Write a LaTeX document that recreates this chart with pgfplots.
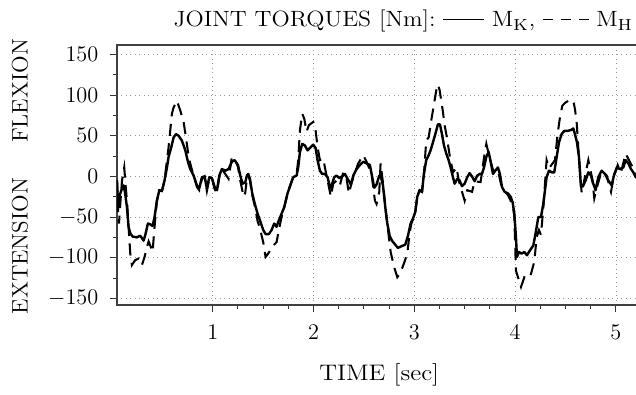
\documentclass[border=0pt]{standalone}
\usepackage{pgfplots}
\usepackage{graphicx}
\pgfplotsset{compat=1.18}
\pgfplotstableread{
t v
0.050 -5
0.056 -28
0.066 -34
0.080 -22
0.100 -15
0.116 -11
0.130 -20
0.149 -38
0.165 -62
0.182 -70
0.205 -74
0.248 -75
0.281 -73
0.314 -79
0.331 -72
0.357 -58
0.380 -59
0.403 -61
0.423 -50
0.446 -30
0.470 -17
0.496 -18
0.522 -5
0.546 11
0.562 24
0.589 36
0.612 48
0.635 52
0.661 50
0.694 44
0.728 32
0.754 18
0.777 9
0.810 1
0.843 -11
0.866 -15
0.893 -1
0.919 0
0.942 -15
0.966 -1
0.992 -2
1.019 -13
1.042 -17
1.065 1
1.091 9
1.124 7
1.157 9
1.190 18
1.217 20
1.250 14
1.273 1
1.296 -9
1.323 -7
1.339 1
1.352 3
1.369 -3
1.392 -21
1.418 -34
1.445 -46
1.468 -54
1.501 -66
1.524 -71
1.557 -71
1.584 -66
1.610 -58
1.633 -62
1.650 -56
1.676 -48
1.709 -38
1.742 -21
1.775 -9
1.798 -1
1.832 1
1.848 11
1.865 30
1.888 40
1.914 38
1.941 32
1.964 35
1.997 39
2.020 35
2.040 20
2.063 7
2.086 3
2.113 3
2.139 -1
2.166 -15
2.185 -9
2.205 -1
2.228 1
2.255 -2
2.285 0
2.311 3
2.338 -3
2.371 -10
2.394 1
2.427 9
2.460 14
2.493 18
2.526 16
2.559 14
2.582 -1
2.602 -14
2.625 -10
2.652 1
2.665 1
2.689 -11
2.712 -38
2.732 -58
2.755 -73
2.778 -79
2.804 -83
2.837 -88
2.870 -86
2.910 -84
2.937 -73
2.963 -58
2.986 -52
3.009 -44
3.029 -25
3.052 -17
3.076 -19
3.095 3
3.118 20
3.142 26
3.161 32
3.185 42
3.208 52
3.234 64
3.254 64
3.274 52
3.294 38
3.317 28
3.340 20
3.360 11
3.383 -1
3.400 -9
3.426 -3
3.449 -5
3.472 -12
3.499 -9
3.525 -1
3.548 4
3.572 0
3.598 -6
3.624 1
3.648 3
3.671 3
3.691 11
3.714 24
3.737 30
3.757 18
3.780 3
3.803 7
3.829 11
3.849 3
3.869 -13
3.896 -19
3.929 -21
3.955 -25
3.975 -32
3.992 -46
4.008 -75
4.018 -99
4.038 -93
4.064 -95
4.091 -93
4.117 -97
4.147 -91
4.180 -85
4.203 -70
4.230 -50
4.256 -50
4.279 -34
4.296 -17
4.312 -1
4.336 7
4.362 5
4.388 5
4.412 24
4.435 42
4.461 52
4.488 56
4.521 56
4.554 57
4.577 59
4.593 52
4.613 42
4.633 24
4.653 -13
4.676 -11
4.699 -5
4.726 5
4.752 1
4.775 -9
4.798 -17
4.825 -1
4.858 7
4.891 3
4.924 -5
4.957 -11
4.984 3
5.010 11
5.040 9
5.073 11
5.096 20
5.123 16
5.149 9
5.172 5
5.200 -2
}\MK
\pgfplotstableread{
t v
0.050 -5
0.056 -20
0.062 -50
0.070 -58
0.085 -30
0.100 -5
0.122 11
0.135 -10
0.149 -30
0.165 -62
0.182 -95
0.198 -109
0.231 -103
0.265 -101
0.298 -109
0.324 -99
0.347 -87
0.364 -80
0.380 -85
0.403 -93
0.423 -62
0.446 -30
0.470 -17
0.496 -18
0.522 -5
0.546 20
0.562 36
0.579 57
0.595 77
0.612 85
0.645 93
0.678 81
0.711 67
0.734 48
0.761 24
0.787 11
0.810 1
0.843 -13
0.866 -17
0.893 -3
0.919 0
0.942 -18
0.966 -3
0.992 -2
1.019 -16
1.042 -20
1.065 -1
1.091 9
1.124 3
1.157 -3
1.190 24
1.224 20
1.250 12
1.273 -5
1.306 -25
1.323 -20
1.339 -2
1.352 1
1.369 -5
1.392 -23
1.418 -37
1.445 -55
1.468 -64
1.501 -81
1.524 -99
1.550 -95
1.600 -85
1.633 -81
1.656 -66
1.683 -50
1.709 -38
1.742 -21
1.775 -9
1.798 -1
1.832 3
1.848 20
1.865 57
1.888 77
1.908 71
1.931 55
1.954 63
1.997 67
2.020 57
2.040 36
2.063 20
2.096 22
2.119 7
2.146 -9
2.172 -25
2.195 -9
2.230 -5
2.261 -11
2.295 5
2.328 -3
2.351 -21
2.377 -8
2.443 16
2.493 26
2.526 18
2.576 3
2.609 -30
2.625 -34
2.652 -19
2.665 16
2.689 -8
2.712 -38
2.738 -65
2.765 -93
2.798 -111
2.831 -124
2.864 -118
2.897 -107
2.930 -95
2.953 -70
2.970 -58
2.990 -52
3.009 -44
3.029 -25
3.052 -17
3.076 -19
3.095 3
3.118 44
3.142 48
3.168 69
3.195 89
3.218 106
3.234 113
3.251 106
3.267 93
3.284 79
3.300 63
3.323 48
3.350 26
3.383 5
3.419 11
3.440 -5
3.499 -30
3.525 -17
3.572 -19
3.598 -6
3.657 -7
3.697 28
3.714 40
3.737 28
3.780 8
3.829 8
3.869 -15
3.929 -23
3.978 -36
3.992 -50
4.008 -116
4.038 -128
4.058 -136
4.091 -124
4.124 -126
4.157 -120
4.190 -105
4.213 -75
4.236 -66
4.256 -72
4.279 -40
4.312 20
4.336 10
4.395 20
4.421 52
4.445 73
4.468 87
4.501 91
4.544 94
4.577 93
4.593 83
4.610 67
4.626 36
4.643 7
4.660 -21
4.693 0
4.726 20
4.765 -3
4.785 -27
4.808 -15
4.858 7
4.908 1
4.951 -19
4.974 -3
5.017 14
5.050 5
5.096 28
5.129 20
5.200 3
}\MH
\begin{document}
\begin{tikzpicture}
\begin{axis}[
  scale only axis,
  width=279.7pt, height=139.8pt,
  xmin=0.05, xmax=5.21,
  ymin=-158.2, ymax=161.6,
  xtick={1,2,3,4,5},
  ytick={-150,-100,-50,0,50,100,150},
  minor x tick num=3,
  minor y tick num=1,
  tick align=outside,
  xtick pos=bottom, ytick pos=left,
  major tick length=3.5pt, minor tick length=2pt,
  tick style={black!80, line width=0.5pt},
  axis line style={black!75, line width=0.7pt},
  grid=major,
  grid style={dotted, black!40, line width=0.4pt},
  tick label style={font=\fontsize{11.5}{13}\selectfont},
  xticklabel style={yshift=-4pt},
  yticklabel style={xshift=-3pt},
]
\addplot[black, line width=1.3pt, line join=round] table[x=t,y=v]{\MK};
\addplot[black, line width=1.1pt, dash pattern=on 6.5pt off 4pt] table[x=t,y=v]{\MH};
\end{axis}
\node[rotate=90, font=\fontsize{11.5}{13}\selectfont] at (-52.2pt,115.1pt) {\scalebox{1.08}[1.05]{FLEXION}};
\node[rotate=90, font=\fontsize{11.5}{13}\selectfont] at (-52.2pt,31.7pt) {\scalebox{1.08}[1.05]{EXTENSION}};
\node[font=\fontsize{11.5}{13}\selectfont] at (141pt,-37.7pt) {\scalebox{1.18}[1.05]{TIME [sec]}};
\node[anchor=base east, inner sep=0pt, font=\fontsize{11}{13}\selectfont] at (277.6pt,149.6pt)
  {\scalebox{1.17}[1.08]{JOINT TORQUES [Nm]:\ \rule[0.3em]{1.7em}{0.55pt}\ M$_{\mathrm{K}}$,\ \rule[0.3em]{0.4em}{0.55pt}\hspace{0.35em}\rule[0.3em]{0.4em}{0.55pt}\hspace{0.35em}\rule[0.3em]{0.4em}{0.55pt}\ M$_{\mathrm{H}}$}};
\pgfresetboundingbox
\path (-62.9pt,-48.4pt) rectangle (279.1pt,164.0pt);
\end{tikzpicture}
\end{document}
